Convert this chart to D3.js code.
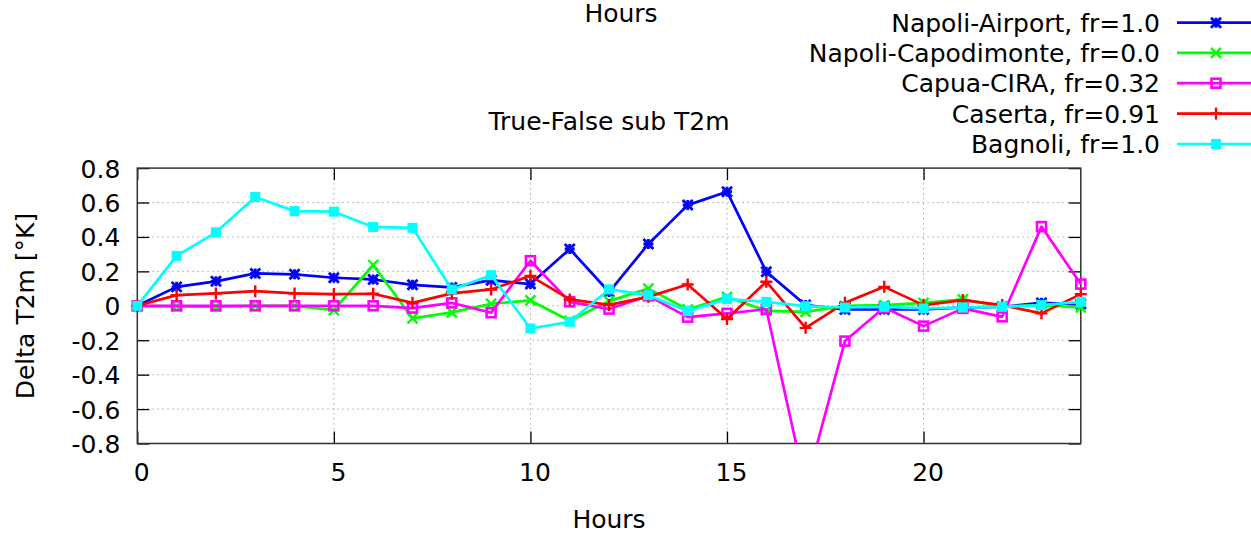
<!DOCTYPE html>
<html>
<head>
<meta charset="utf-8">
<script src="https://cdn.jsdelivr.net/npm/d3@7"></script>
<style>
  html, body { margin: 0; padding: 0; background: #fff; }
  svg { display: block; font-family: "DejaVu Sans", sans-serif; }
</style>
</head>
<body>
<svg id="chart" width="1251" height="533"></svg>
<script>
// Forecast hours
const hours = d3.range(0, 25);

// Delta T2m (True - False) per station
const napoliAirport = [0, 0.11, 0.142, 0.188, 0.183, 0.163, 0.153, 0.122, 0.107, 0.149, 0.126, 0.33, 0.08, 0.359, 0.585, 0.663, 0.198, 0.004, -0.021, -0.021, -0.021, -0.01, -0.006, 0.017, 0.01];
const napoliCapodimonte = [0, -0.003, -0.005, 0, 0, -0.025, 0.237, -0.073, -0.038, 0.012, 0.031, -0.087, 0.027, 0.1, -0.021, 0.052, -0.029, -0.035, 0.0, 0.004, 0.017, 0.037, -0.005, 0.004, -0.01];
const capuaCira = [0, 0, 0, 0, 0, 0, 0, -0.013, 0.017, -0.04, 0.262, 0.023, -0.019, 0.058, -0.066, -0.044, -0.02, -1.05, -0.205, -0.01, -0.118, -0.015, -0.064, 0.46, 0.126];
const caserta = [0, 0.062, 0.072, 0.085, 0.072, 0.068, 0.07, 0.017, 0.072, 0.095, 0.174, 0.037, 0.005, 0.052, 0.124, -0.077, 0.14, -0.128, 0.017, 0.11, 0.004, 0.033, 0.004, -0.044, 0.068];
const bagnoli = [0, 0.29, 0.427, 0.632, 0.55, 0.547, 0.458, 0.453, 0.095, 0.178, -0.132, -0.093, 0.095, 0.062, -0.031, 0.039, 0.023, -0.002, -0.01, -0.006, -0.015, -0.01, -0.006, 0.004, 0.023];

const seriesNames = ["Napoli-Airport, fr=1.0", "Napoli-Capodimonte, fr=0.0", "Capua-CIRA, fr=0.32", "Caserta, fr=0.91", "Bagnoli, fr=1.0"];
const seriesColors = ["#0000ff", "#00ff00", "#ff00ff", "#ff0000", "#00ffff"];
const seriesMarkers = ["asterisk", "cross", "openSquare", "plus", "filledSquare"];
const seriesValues = [napoliAirport, napoliCapodimonte, capuaCira, caserta, bagnoli];

const xTicks = [0, 5, 10, 15, 20];
const yTicks = [-0.8, -0.6, -0.4, -0.2, 0, 0.2, 0.4, 0.6, 0.8];
const yTickLabels = ["-0.8", "-0.6", "-0.4", "-0.2", "0", "0.2", "0.4", "0.6", "0.8"];

const plot = { left: 137.3, right: 1080.8, top: 168.1, bottom: 443.5 };

const svg = d3.select("#chart");
const x = d3.scaleLinear().domain([0, 24]).range([plot.left, plot.right]);
const y = d3.scaleLinear().domain([-0.8, 0.8]).range([plot.bottom, plot.top]);

const FS = 25;

// grid
const grid = svg.append("g").attr("stroke", "#a8a8a8").attr("stroke-width", 1).attr("stroke-dasharray", "1.5,3.5");
grid.selectAll("line.gy").data(yTicks.filter(v => v > -0.8 && v < 0.8)).join("line")
  .attr("x1", plot.left).attr("x2", plot.right)
  .attr("y1", d => y(d)).attr("y2", d => y(d));
grid.selectAll("line.gx").data(xTicks.filter(v => v > 0)).join("line")
  .attr("x1", d => x(d)).attr("x2", d => x(d))
  .attr("y1", plot.top).attr("y2", plot.bottom);

// axes (ticks pointing inward on all four sides)
const tickLen = 12;
const axB = svg.append("g").attr("transform", `translate(0,${plot.bottom})`)
  .call(d3.axisBottom(x).tickValues(xTicks).tickSize(-tickLen).tickPadding(20).tickFormat(d3.format("d")));
const axT = svg.append("g").attr("transform", `translate(0,${plot.top})`)
  .call(d3.axisTop(x).tickValues(xTicks).tickSize(-tickLen).tickFormat(""));
const axL = svg.append("g").attr("transform", `translate(${plot.left},0)`)
  .call(d3.axisLeft(y).tickValues(yTicks).tickSize(-tickLen).tickPadding(17)
    .tickFormat((d, i) => yTickLabels[i]));
const axR = svg.append("g").attr("transform", `translate(${plot.right},0)`)
  .call(d3.axisRight(y).tickValues(yTicks).tickSize(-tickLen).tickFormat(""));
[axB, axT, axL, axR].forEach(g => {
  g.select(".domain").remove();
  g.selectAll(".tick line").attr("stroke", "#000").attr("stroke-width", 1.3);
  g.selectAll("text").attr("font-family", "DejaVu Sans").attr("font-size", FS).attr("fill", "#000");
});
axB.selectAll("text").attr("dx", 4);
axL.selectAll("text").attr("dy", "0.36em");

// plot border
svg.append("rect").attr("x", plot.left).attr("y", plot.top)
  .attr("width", plot.right - plot.left).attr("height", plot.bottom - plot.top)
  .attr("fill", "none").attr("stroke", "#333").attr("stroke-width", 1.5);

// clip region for series
svg.append("clipPath").attr("id", "plotClip").append("rect")
  .attr("x", plot.left - 8).attr("y", plot.top).attr("width", plot.right - plot.left + 16).attr("height", plot.bottom - plot.top);

function drawMarker(g, type, color, cx, cy) {
  const s = 5;
  if (type === "asterisk") {
    const m = g.append("g").attr("stroke", color).attr("stroke-width", 2.8);
    m.append("line").attr("x1", cx - s).attr("x2", cx + s).attr("y1", cy).attr("y2", cy);
    m.append("line").attr("x1", cx).attr("x2", cx).attr("y1", cy - s).attr("y2", cy + s);
    m.append("line").attr("x1", cx - s).attr("x2", cx + s).attr("y1", cy - s).attr("y2", cy + s);
    m.append("line").attr("x1", cx - s).attr("x2", cx + s).attr("y1", cy + s).attr("y2", cy - s);
  } else if (type === "cross") {
    const m = g.append("g").attr("stroke", color).attr("stroke-width", 2.4);
    m.append("line").attr("x1", cx - s).attr("x2", cx + s).attr("y1", cy - s).attr("y2", cy + s);
    m.append("line").attr("x1", cx - s).attr("x2", cx + s).attr("y1", cy + s).attr("y2", cy - s);
  } else if (type === "plus") {
    const m = g.append("g").attr("stroke", color).attr("stroke-width", 2.4);
    m.append("line").attr("x1", cx - 6).attr("x2", cx + 6).attr("y1", cy).attr("y2", cy);
    m.append("line").attr("x1", cx).attr("x2", cx).attr("y1", cy - 6).attr("y2", cy + 6);
  } else if (type === "openSquare") {
    g.append("rect").attr("x", cx - 4.5).attr("y", cy - 4.5).attr("width", 9).attr("height", 9)
      .attr("fill", "none").attr("stroke", color).attr("stroke-width", 2.6);
  } else if (type === "filledSquare") {
    g.append("rect").attr("x", cx - 5).attr("y", cy - 5).attr("width", 10).attr("height", 10)
      .attr("fill", color);
  }
}

const line = d3.line().x((d, i) => x(hours[i])).y(d => y(d));
const seriesLayer = svg.append("g").attr("clip-path", "url(#plotClip)");

seriesValues.forEach((vals, k) => {
  const g = seriesLayer.append("g");
  g.append("path").datum(vals).attr("d", line)
    .attr("fill", "none").attr("stroke", seriesColors[k]).attr("stroke-width", 2.7)
    .attr("stroke-linejoin", "round");
  vals.forEach((v, i) => {
    if (v >= -0.8 && v <= 0.8) drawMarker(g, seriesMarkers[k], seriesColors[k], x(hours[i]), y(v));
  });
});

// legend
const legendRowY = [22.7, 52.8, 83.2, 113.6, 144];
seriesNames.forEach((name, k) => {
  const ly = legendRowY[k];
  svg.append("text").attr("x", 1160).attr("y", ly).attr("dy", "0.36em")
    .attr("text-anchor", "end").attr("font-size", FS).attr("fill", "#000").text(name);
  svg.append("line").attr("x1", 1177).attr("x2", 1251).attr("y1", ly).attr("y2", ly)
    .attr("stroke", seriesColors[k]).attr("stroke-width", 2.7);
  drawMarker(svg.append("g"), seriesMarkers[k], seriesColors[k], 1216, ly);
});

// titles and axis labels
svg.append("text").attr("x", 621).attr("y", 22).attr("text-anchor", "middle")
  .attr("font-size", FS).attr("fill", "#000").text("Hours");
svg.append("text").attr("x", 609).attr("y", 130).attr("text-anchor", "middle")
  .attr("font-size", FS).attr("fill", "#000").text("True-False sub T2m");
svg.append("text").attr("x", 609).attr("y", 528).attr("text-anchor", "middle")
  .attr("font-size", FS).attr("fill", "#000").text("Hours");
svg.append("text").attr("transform", "translate(34,306) rotate(-90)").attr("text-anchor", "middle")
  .attr("font-size", FS).attr("fill", "#000").text("Delta T2m [°K]");
</script>
</body>
</html>
